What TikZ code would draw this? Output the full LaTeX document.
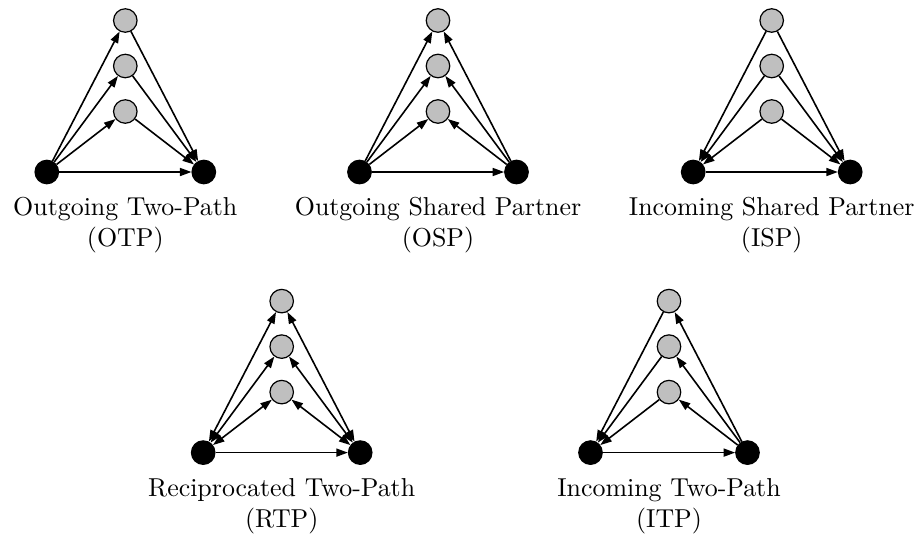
\documentclass[tikz,border=0pt]{standalone}
\usetikzlibrary{arrows.meta}
\begin{document}
\begin{tikzpicture}[x=1pt,y=-1pt,
  graynode/.style={circle,draw=black,line width=1.2pt,fill=black!25,minimum size=23.5pt,inner sep=0pt},
  blacknode/.style={circle,draw=black,line width=1.2pt,fill=black,minimum size=23.5pt,inner sep=0pt},
  tip/.style={Triangle[length=11.5pt,width=8pt]},
  edge/.style={line width=1.6pt,-{Triangle[length=11.5pt,width=8pt]}},
  biedge/.style={line width=1.6pt,{Triangle[length=11.5pt,width=8pt]}-{Triangle[length=11.5pt,width=8pt]}},
  lbl/.style={anchor=north,inner sep=0pt}]
\useasboundingbox (0,0) rectangle (921,533);
\newcommand\mytriad[3]{%
  \node[blacknode] (#1L) at (#2-78.5,#3) {};
  \node[blacknode] (#1R) at (#2+78.5,#3) {};
  \node[graynode] (#1A) at (#2,#3-151.5) {};
  \node[graynode] (#1B) at (#2,#3-106) {};
  \node[graynode] (#1C) at (#2,#3-60.5) {};}
\newcommand\mylabel[2]{\scalebox{2.59}{\begin{tabular}[t]{@{}c@{}}#1\\#2\end{tabular}}}
% OTP
\mytriad{p}{125.3}{172}
\draw[edge] (pL) -- (pR);
\foreach \g in {A,B,C}{\draw[edge] (pL) -- (p\g); \draw[edge] (p\g) -- (pR);}
\node[lbl] (plab) at (125.3,193.2) {\mylabel{Outgoing Two-Path}{(OTP)}};
% OSP
\mytriad{q}{438}{172}
\draw[edge] (qL) -- (qR);
\foreach \g in {A,B,C}{\draw[edge] (qL) -- (q\g); \draw[edge] (qR) -- (q\g);}
\node[lbl] (qlab) at (438,193.2) {\mylabel{Outgoing Shared Partner}{(OSP)}};
% ISP
\mytriad{r}{771.7}{172}
\draw[edge] (rL) -- (rR);
\foreach \g in {A,B,C}{\draw[edge] (r\g) -- (rL); \draw[edge] (r\g) -- (rR);}
\node[lbl] (rlab) at (771.7,193.2) {\mylabel{Incoming Shared Partner}{(ISP)}};
% RTP
\mytriad{s}{281.7}{452.6}
\draw[edge] (sL) -- (sR);
\foreach \g in {A,B,C}{\draw[biedge] (sL) -- (s\g); \draw[biedge] (sR) -- (s\g);}
\node[lbl] (slab) at (281.7,474.9) {\mylabel{Reciprocated Two-Path}{(RTP)}};
% ITP
\mytriad{t}{669}{452.6}
\draw[edge] (tL) -- (tR);
\foreach \g in {A,B,C}{\draw[edge] (t\g) -- (tL); \draw[edge] (tR) -- (t\g);}
\node[lbl] (tlab) at (669,474.9) {\mylabel{Incoming Two-Path}{(ITP)}};
\end{tikzpicture}
\end{document}
